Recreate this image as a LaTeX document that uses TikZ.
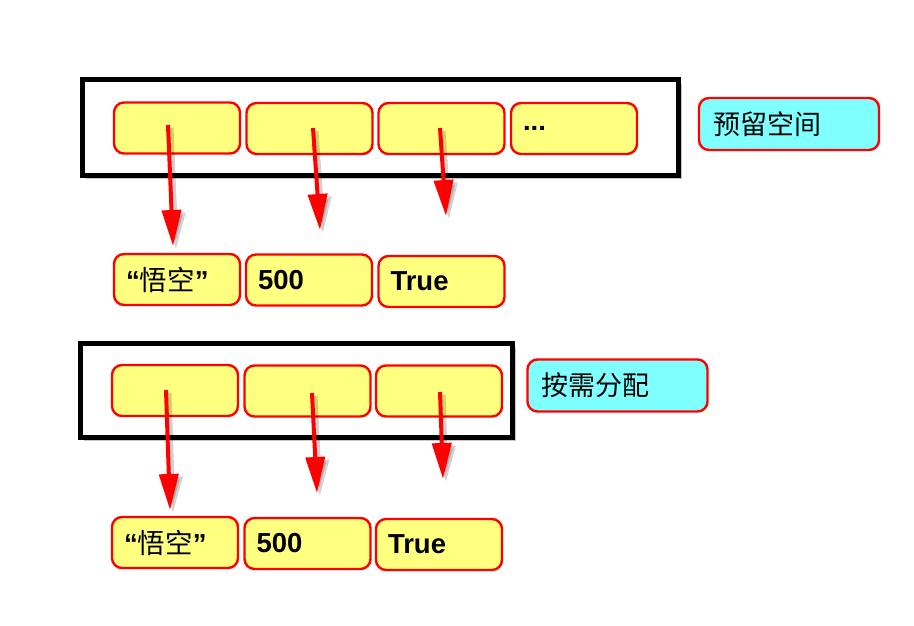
\documentclass[tikz,border=0pt]{standalone}
\usepackage{fontspec}
\setmainfont{Liberation Sans}
\newfontfamily\cjk{Noto Sans CJK SC}
\usetikzlibrary{shadows,arrows.meta}
\definecolor{cellyellow}{RGB}{255,255,128}
\definecolor{labelcyan}{RGB}{128,255,255}
\definecolor{linered}{RGB}{255,0,0}
\tikzset{
  frame/.style={draw=black, line width=5pt, fill=white,
    drop shadow={shadow xshift=4pt, shadow yshift=-4pt, opacity=0.45}},
  cell/.style={draw=linered, line width=2.4pt, fill=cellyellow, rounded corners=10pt,
    minimum width=126pt, minimum height=51pt, text width=102pt, inner xsep=12pt,
    align=left, font=\fontsize{27.5}{30}\selectfont\bfseries},
  tag/.style={draw=linered, line width=2.4pt, fill=labelcyan, rounded corners=10pt,
    minimum width=180pt, minimum height=52pt, text width=152pt, inner xsep=14pt,
    align=left, font=\fontsize{27}{30}\selectfont\cjk},
  ptr/.style={draw=linered, line width=4pt, -{Triangle[length=36pt,width=19pt]}},
  ptrshadow/.style={draw=black, opacity=0.18, line width=5pt, -{Triangle[length=36pt,width=21pt]}},
}
\newcommand{\wk}{“{\cjk\mdseries 悟空}”}
\begin{document}
\begin{tikzpicture}[x=1pt,y=-1pt]
\useasboundingbox (0,0) rectangle (914,626);
% ---------- top group ----------
\node[frame, minimum width=596pt, minimum height=95pt, inner sep=0pt] (f1) at (380,127.5) {};
\node[cell] (a1) at (177,128) {};
\node[cell] (a2) at (309.5,128.5) {};
\node[cell] (a3) at (441.5,128.5) {};
\node[cell] (a4) at (574,128.5) {...};
\node[tag] (t1) at (789,124) {预留空间};
\node[cell] (v1) at (177,279.5) {\wk};
\node[cell] (v2) at (309,280) {500};
\node[cell] (v3) at (441.5,281.5) {True};
\coordinate (s1) at (168,125); \coordinate (e1) at (173,246);
\coordinate (s2) at (313,128); \coordinate (e2) at (320,230);
\coordinate (s3) at (440,128); \coordinate (e3) at (446,216);
% ---------- bottom group ----------
\node[frame, minimum width=432pt, minimum height=94pt, inner sep=0pt] (f2) at (296,390) {};
\node[cell] (b1) at (175,390.5) {};
\node[cell] (b2) at (307.5,391) {};
\node[cell] (b3) at (439,391) {};
\node[tag] (t2) at (617.5,385.5) {按需分配};
\node[cell] (w1) at (175,542.5) {\wk};
\node[cell] (w2) at (307.5,543.5) {500};
\node[cell] (w3) at (439,544.5) {True};
\coordinate (s4) at (166,390); \coordinate (e4) at (170,510);
\coordinate (s5) at (312,393); \coordinate (e5) at (317,493);
\coordinate (s6) at (440,392); \coordinate (e6) at (443,479);
% ---------- arrows ----------
\foreach \i in {1,...,6}{
  \draw[ptrshadow] ([shift={(3pt,-3pt)}]s\i) -- ([shift={(3pt,-3pt)}]e\i);
}
\foreach \i in {1,...,6}{
  \draw[ptr] (s\i) -- (e\i);
}
\end{tikzpicture}
\end{document}
